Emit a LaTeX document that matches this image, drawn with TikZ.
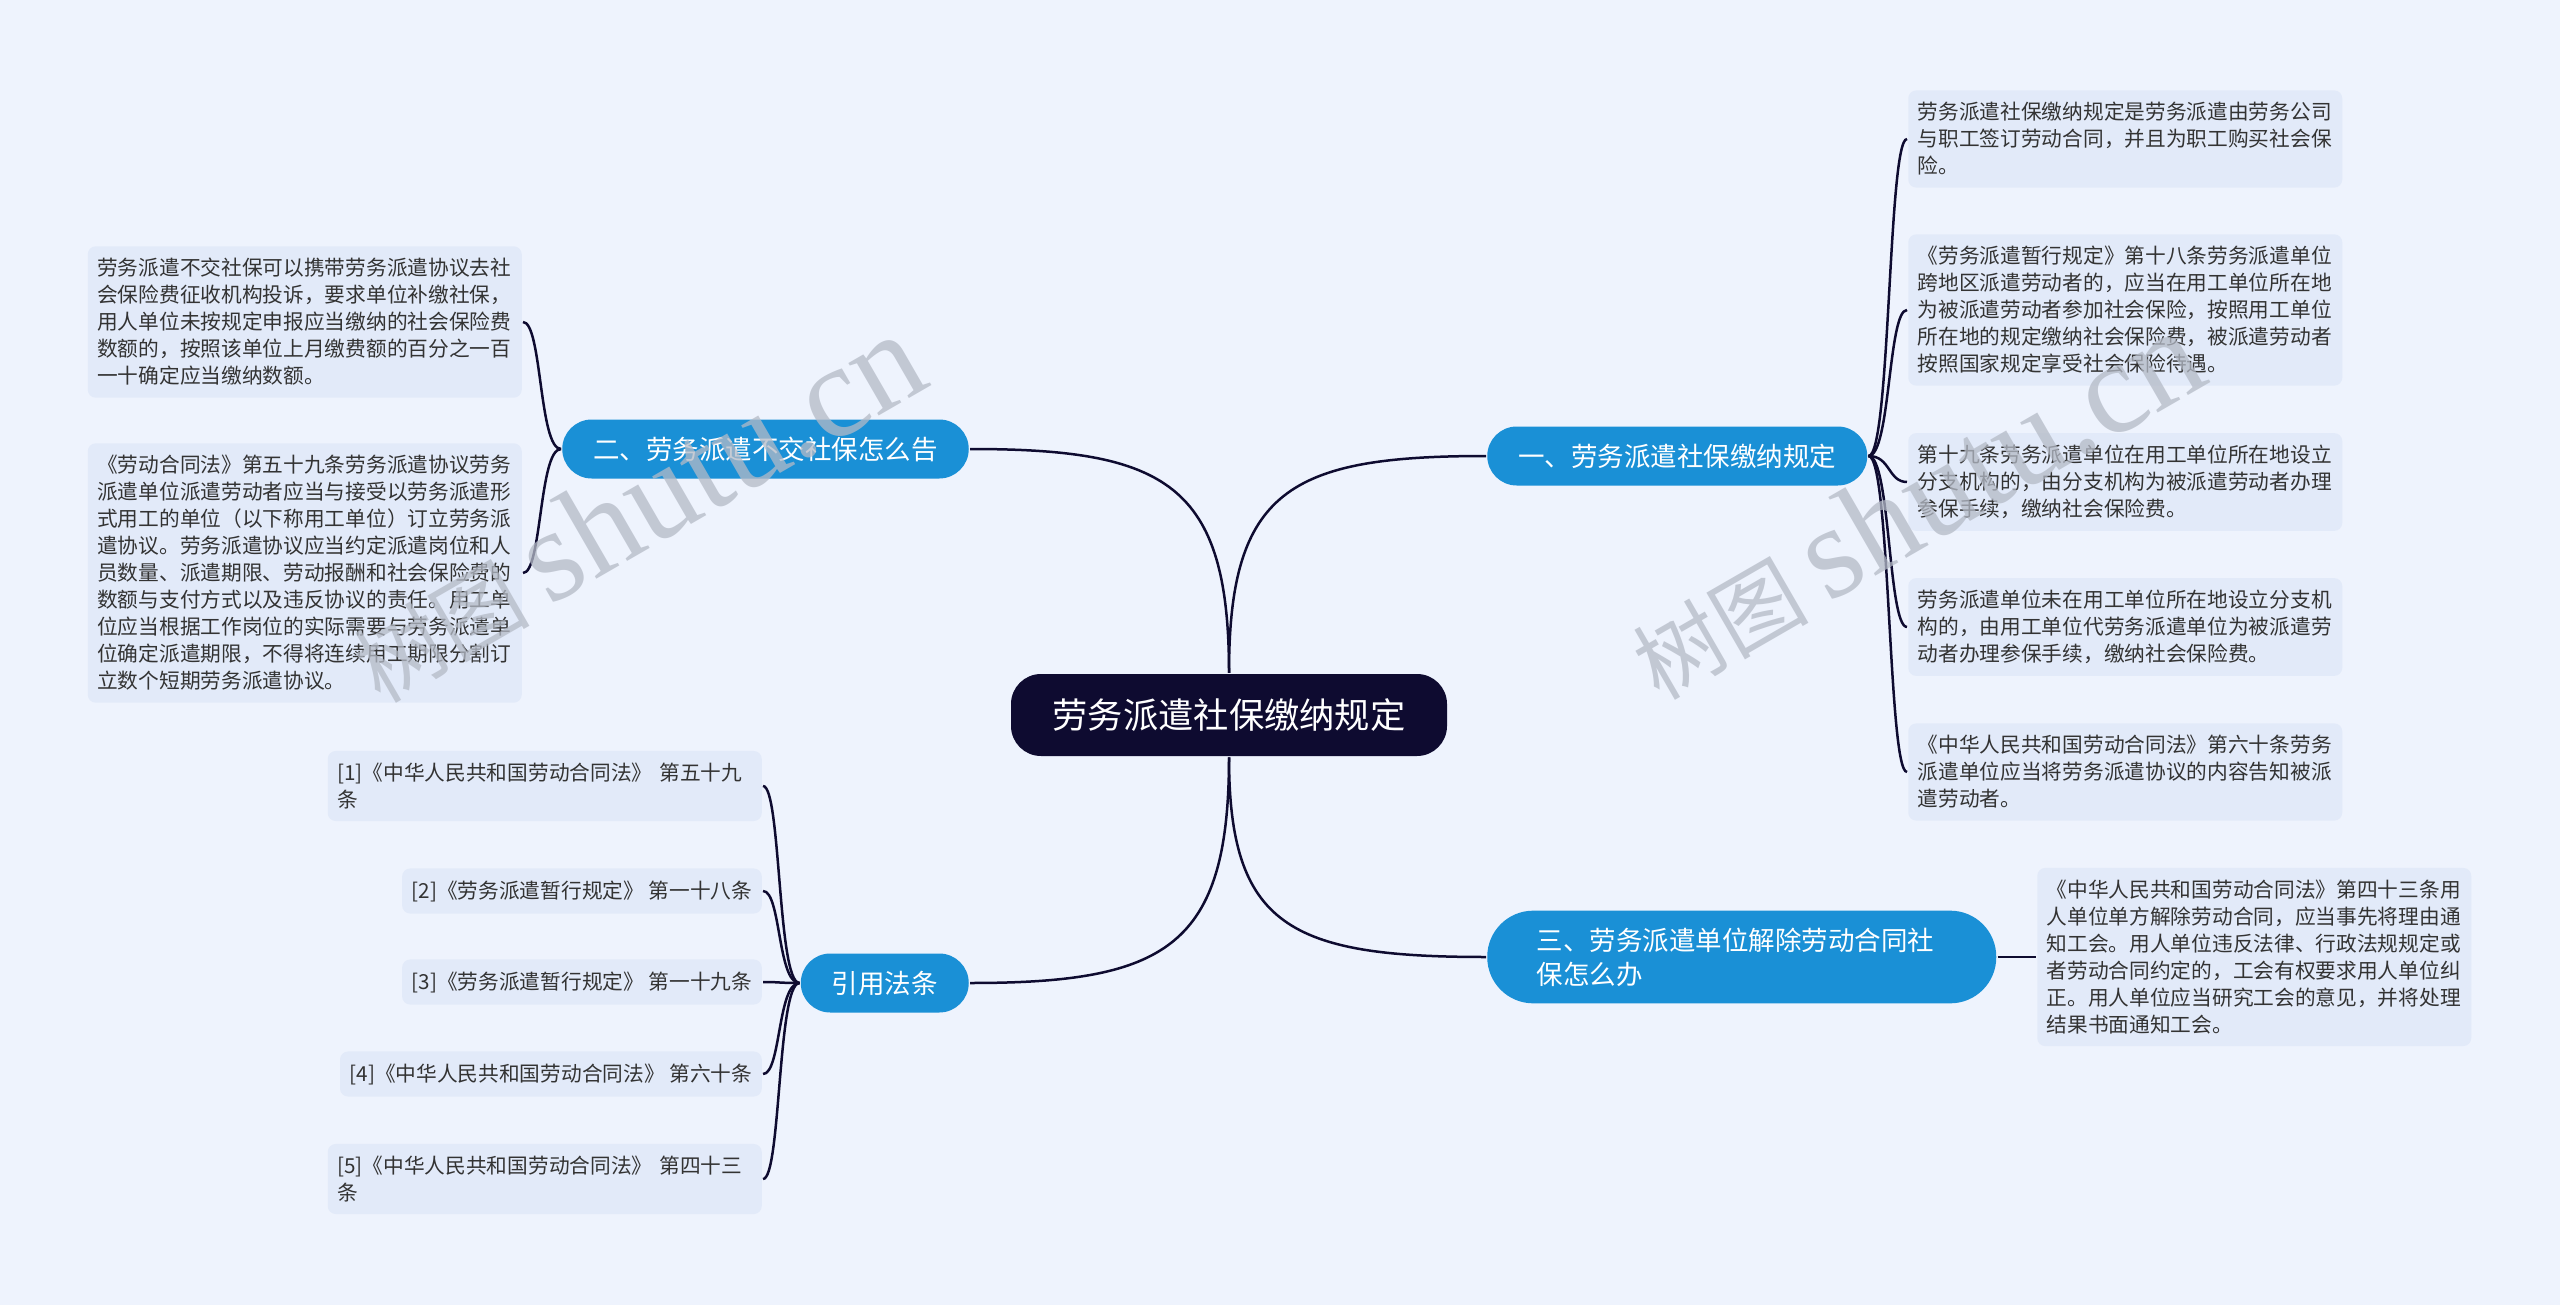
\documentclass[tikz,border=0pt]{standalone}
\usepackage{fontspec}
\setmainfont{Noto Sans CJK SC}
\newfontfamily\wmlatin{Liberation Serif}
\usetikzlibrary{positioning}
\definecolor{cbg}{HTML}{EEF3FD}
\definecolor{cleaf}{HTML}{E2EAF9}
\definecolor{cblue}{HTML}{1A90D6}
\definecolor{cnavy}{HTML}{0E0B30}
\definecolor{ctext}{HTML}{333333}
\definecolor{cmark}{HTML}{B4BAC6}
\tikzset{
  every picture/.style={line width=1.25pt},
  root/.style={fill=cnavy, text=white, rounded corners=15pt, font=\fontsize{17.65pt}{22pt}\selectfont, minimum width=218pt, minimum height=41pt, inner sep=0pt},
  branch/.style={fill=cblue, text=white, rounded corners=14.75pt, font=\fontsize{13.25pt}{17pt}\selectfont, inner xsep=15.5pt, minimum height=29.5pt, align=left},
  leaf/.style={fill=cleaf, text=ctext, rounded corners=4pt, font=\fontsize{10.35pt}{13.5pt}\selectfont, inner xsep=4.75pt, inner ysep=6pt, align=left},
  wide/.style={text width=207.5pt},
  link/.style={draw=cnavy, line width=1.25pt},
  wmark/.style={text=cmark, text opacity=0.75, inner sep=0pt, rotate=30},
}

\begin{document}
\begin{tikzpicture}[x=0.5pt, y=-0.5pt]
  \useasboundingbox (0,0) rectangle (2560,1305);
  \fill[cbg] (0,0) rectangle (2560,1305);
  % centre and main branches
  \node[root] (root) at (1229,715) {劳务派遣社保缴纳规定};
  \node[branch, anchor=west] (b1) at (1486,456) {一、劳务派遣社保缴纳规定};
  \node[branch, anchor=east] (b2) at (970,449) {二、劳务派遣不交社保怎么告};
  \node[branch, anchor=west, text width=205pt, inner xsep=24.75pt, inner ysep=8.5pt, rounded corners=23pt] (b3) at (1486,957) {三、劳务派遣单位解除劳动合同社\\保怎么办};
  \node[branch, anchor=east] (b4) at (970,983) {引用法条};
  % right leaves
  \node[leaf, wide, anchor=west] (r1) at (1907,139) {劳务派遣社保缴纳规定是劳务派遣由劳务公司\\与职工签订劳动合同，并且为职工购买社会保\\险。};
  \node[leaf, wide, anchor=west] (r2) at (1907,310) {《劳务派遣暂行规定》第十八条劳务派遣单位\\跨地区派遣劳动者的，应当在用工单位所在地\\为被派遣劳动者参加社会保险，按照用工单位\\所在地的规定缴纳社会保险费，被派遣劳动者\\按照国家规定享受社会保险待遇。};
  \node[leaf, wide, anchor=west] (r3) at (1907,482) {第十九条劳务派遣单位在用工单位所在地设立\\分支机构的，由分支机构为被派遣劳动者办理\\参保手续，缴纳社会保险费。};
  \node[leaf, wide, anchor=west] (r4) at (1907,627) {劳务派遣单位未在用工单位所在地设立分支机\\构的，由用工单位代劳务派遣单位为被派遣劳\\动者办理参保手续，缴纳社会保险费。};
  \node[leaf, wide, anchor=west] (r5) at (1907,772) {《中华人民共和国劳动合同法》第六十条劳务\\派遣单位应当将劳务派遣协议的内容告知被派\\遣劳动者。};
  \node[leaf, wide, anchor=west] (r6) at (2036,957) {《中华人民共和国劳动合同法》第四十三条用\\人单位单方解除劳动合同，应当事先将理由通\\知工会。用人单位违反法律、行政法规规定或\\者劳动合同约定的，工会有权要求用人单位纠\\正。用人单位应当研究工会的意见，并将处理\\结果书面通知工会。};
  % left leaves
  \node[leaf, wide, anchor=east] (l1) at (523,322) {劳务派遣不交社保可以携带劳务派遣协议去社\\会保险费征收机构投诉，要求单位补缴社保，\\用人单位未按规定申报应当缴纳的社会保险费\\数额的，按照该单位上月缴费额的百分之一百\\一十确定应当缴纳数额。};
  \node[leaf, wide, anchor=east] (l2) at (523,573) {《劳动合同法》第五十九条劳务派遣协议劳务\\派遣单位派遣劳动者应当与接受以劳务派遣形\\式用工的单位（以下称用工单位）订立劳务派\\遣协议。劳务派遣协议应当约定派遣岗位和人\\员数量、派遣期限、劳动报酬和社会保险费的\\数额与支付方式以及违反协议的责任。用工单\\位应当根据工作岗位的实际需要与劳务派遣单\\位确定派遣期限，不得将连续用工期限分割订\\立数个短期劳务派遣协议。};
  % cited articles
  \node[leaf, wide, anchor=east] (c1) at (763,786) {[1]《中华人民共和国劳动合同法》 第五十九\\条};
  \node[leaf, anchor=east] (c2) at (763,891) {[2]《劳务派遣暂行规定》 第一十八条};
  \node[leaf, anchor=east] (c3) at (763,982) {[3]《劳务派遣暂行规定》 第一十九条};
  \node[leaf, anchor=east] (c4) at (763,1074) {[4]《中华人民共和国劳动合同法》 第六十条};
  \node[leaf, wide, anchor=east] (c5) at (763,1179) {[5]《中华人民共和国劳动合同法》 第四十三\\条};
  % connectors
  \draw[link] (root.north) .. controls +(0,-183) and +(-196,0) .. (b1.west);
  \draw[link] (root.north) .. controls +(0,-189) and +(196,0) .. (b2.east);
  \draw[link] (root.south) .. controls +(0,169) and +(-196,0) .. (b3.west);
  \draw[link] (root.south) .. controls +(0,190) and +(196,0) .. (b4.east);
  \foreach \n in {r1,r2,r3,r4,r5}
    \draw[link] (b1.east) .. controls +(22,0) and +(-19,0) .. (\n.west);
  \foreach \n in {l1,l2}
    \draw[link] (b2.west) .. controls +(-22,0) and +(19,0) .. (\n.east);
  \foreach \n in {c1,c2,c3,c4,c5}
    \draw[link] (b4.west) .. controls +(-22,0) and +(18,0) .. (\n.east);
  \draw[link] (b3.east) -- (r6.west);
  % watermark
  \node[wmark] (wm1) at (636,508) {{\fontsize{44pt}{44pt}\selectfont 树图}\hspace{10pt}{\wmlatin\fontsize{66pt}{66pt}\selectfont shutu.cn}};
  \node[wmark] (wm2) at (1915,505) {{\fontsize{44pt}{44pt}\selectfont 树图}\hspace{10pt}{\wmlatin\fontsize{66pt}{66pt}\selectfont shutu.cn}};
\end{tikzpicture}
\end{document}
